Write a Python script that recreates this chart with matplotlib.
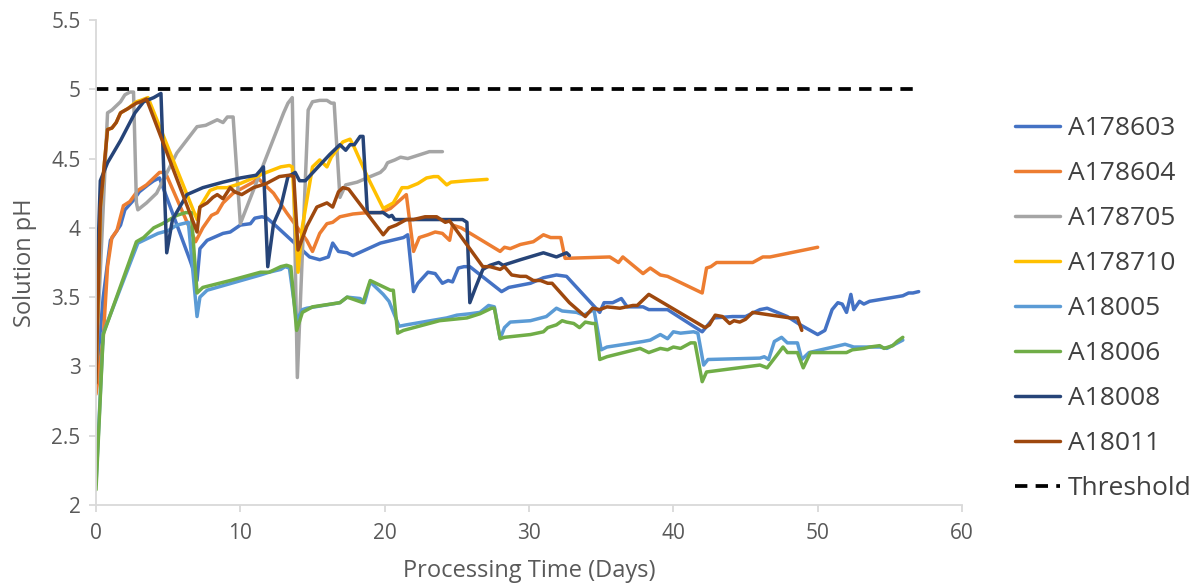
import matplotlib
matplotlib.use("Agg")
import matplotlib.pyplot as plt
from matplotlib.ticker import FuncFormatter, MultipleLocator

plt.rcParams['font.family'] = ['Open Sans', 'DejaVu Sans']

# ---------------- data ----------------
a178603_days = [0, 0.5, 1.0, 1.7, 2.0, 2.6, 3.0, 3.6, 4.0, 4.4, 6.5, 7.0, 7.2, 7.7, 8.8, 9.3, 10.0, 10.7, 11.0, 11.5,
                11.85, 12.3, 14.8, 15.5, 16.1, 16.4, 16.8, 17.4, 17.8, 19.7, 21.3, 21.6, 22.0, 22.3, 23.0, 23.5, 24.0, 24.4, 24.7, 25.1,
                25.5, 25.9, 28.1, 28.6, 30.1, 31.0, 31.9, 32.6, 34.9, 35.2, 35.8, 36.4, 36.8, 37.9, 38.3, 39.6, 42.0, 42.8, 44.1, 45.0,
                46.0, 46.5, 47.9, 48.8, 50.0, 50.5, 51.0, 51.4, 51.7, 52.0, 52.3, 52.5, 52.9, 53.2, 53.6, 55.9, 56.3, 56.6, 57.0]
a178603_ph = [2.9, 3.5, 3.91, 4.02, 4.13, 4.2, 4.26, 4.31, 4.34, 4.36, 3.77, 3.62, 3.85, 3.91, 3.96, 3.97, 4.02, 4.03, 4.07, 4.08,
              4.07, 4.03, 3.79, 3.77, 3.79, 3.89, 3.83, 3.82, 3.80, 3.89, 3.93, 3.95, 3.54, 3.60, 3.68, 3.67, 3.60, 3.62, 3.61, 3.71,
              3.72, 3.72, 3.54, 3.57, 3.60, 3.64, 3.66, 3.65, 3.39, 3.46, 3.46, 3.49, 3.43, 3.43, 3.41, 3.41, 3.25, 3.35, 3.36, 3.36,
              3.41, 3.42, 3.36, 3.30, 3.23, 3.26, 3.41, 3.46, 3.45, 3.39, 3.52, 3.41, 3.47, 3.45, 3.47, 3.51, 3.53, 3.53, 3.54]

a178604_days = [0, 0.5, 0.8, 1.1, 1.45, 1.9, 2.35, 2.9, 3.5, 4.4, 4.8, 6.9, 7.4, 8.0, 8.4, 8.8, 9.5, 10.2, 10.9, 11.2,
                12.3, 13.2, 14.6, 15.0, 15.5, 16.0, 16.4, 16.9, 17.8, 18.8, 19.7, 20.4, 21.5, 22.0, 22.4, 23.0, 23.5, 24.0, 24.5, 24.7,
                25.3, 28.0, 28.3, 28.7, 29.4, 30.3, 31.0, 31.5, 32.2, 32.5, 35.6, 36.2, 36.5, 37.9, 38.4, 39.1, 39.6, 42.0, 42.3, 42.6,
                43.0, 45.5, 46.2, 46.7, 50.0]
a178604_ph = [2.8, 3.2, 3.72, 3.93, 3.98, 4.16, 4.19, 4.27, 4.31, 4.40, 4.40, 3.90, 4.00, 4.09, 4.11, 4.18, 4.25, 4.29, 4.33, 4.36,
              4.25, 4.11, 3.91, 3.83, 3.96, 4.03, 4.04, 4.08, 4.10, 4.11, 4.11, 4.14, 4.24, 3.83, 3.93, 3.95, 3.97, 3.96, 3.91, 4.02,
              4.00, 3.83, 3.86, 3.85, 3.88, 3.90, 3.95, 3.93, 3.93, 3.78, 3.79, 3.75, 3.79, 3.67, 3.71, 3.66, 3.65, 3.53, 3.71, 3.72,
              3.75, 3.75, 3.79, 3.79, 3.86]

a178705_days = [0, 0.8, 1.1, 1.7, 2.0, 2.35, 2.6, 2.8, 2.9, 3.5, 4.2, 5.6, 7.0, 7.6, 8.4, 8.8, 9.1, 9.5, 10.0, 13.0,
                13.3, 13.6, 13.95, 14.7, 15.0, 15.5, 16.0, 16.3, 16.5, 16.9, 17.3, 18.1, 19.0, 19.7, 20.0, 20.2, 20.7, 21.1, 21.6, 22.2,
                22.8, 23.1, 23.5, 24.0]
a178705_ph = [3.0, 4.83, 4.85, 4.91, 4.96, 4.98, 4.98, 4.18, 4.13, 4.18, 4.25, 4.54, 4.73, 4.74, 4.78, 4.76, 4.80, 4.80, 4.03, 4.83,
              4.90, 4.94, 2.92, 4.85, 4.91, 4.92, 4.92, 4.90, 4.90, 4.22, 4.31, 4.33, 4.37, 4.40, 4.43, 4.47, 4.49, 4.51, 4.50, 4.52,
              4.54, 4.55, 4.55, 4.55]

a178710_days = [0, 0.3, 0.8, 1.1, 1.4, 1.7, 2.2, 2.8, 3.1, 3.6, 7.0, 7.2, 7.9, 8.4, 9.1, 10.0, 10.9, 11.8, 12.8, 13.4,
                13.6, 14.0, 14.3, 15.0, 15.5, 16.0, 16.3, 17.1, 17.6, 17.9, 18.8, 19.9, 20.6, 21.2, 21.6, 22.3, 22.9, 23.4, 23.7, 24.3,
                24.6, 25.7, 27.1]
a178710_ph = [2.9, 4.15, 4.71, 4.72, 4.76, 4.83, 4.86, 4.91, 4.92, 4.94, 4.06, 4.15, 4.27, 4.29, 4.29, 4.32, 4.36, 4.40, 4.44, 4.45,
              4.44, 3.68, 4.01, 4.44, 4.49, 4.44, 4.51, 4.62, 4.64, 4.58, 4.37, 4.14, 4.18, 4.29, 4.29, 4.32, 4.36, 4.37, 4.37, 4.31,
              4.33, 4.34, 4.35]

a18005_days = [0, 0.5, 2.9, 3.7, 4.3, 5.0, 5.6, 6.4, 7.0, 7.2, 7.7, 11.4, 12.0, 12.8, 13.1, 13.4, 13.9, 14.3, 14.6, 16.9,
               17.4, 18.3, 18.6, 19.0, 19.9, 20.3, 21.0, 21.5, 24.3, 25.0, 25.9, 26.6, 27.2, 27.6, 28.0, 28.3, 28.7, 30.1, 31.2, 31.9,
               32.3, 33.3, 33.8, 34.5, 35.0, 35.4, 37.9, 38.4, 39.1, 39.6, 40.0, 40.5, 41.4, 41.7, 42.1, 42.4, 46.0, 46.3, 46.6, 47.0,
               47.5, 47.9, 48.6, 48.9, 49.4, 51.9, 52.5, 54.3, 54.8, 55.9]
a18005_ph = [2.15, 3.24, 3.89, 3.93, 3.96, 3.98, 4.02, 4.04, 3.36, 3.50, 3.55, 3.66, 3.68, 3.70, 3.72, 3.71, 3.33, 3.41, 3.42, 3.46,
             3.50, 3.49, 3.46, 3.61, 3.52, 3.47, 3.29, 3.30, 3.35, 3.37, 3.38, 3.39, 3.44, 3.43, 3.20, 3.28, 3.32, 3.33, 3.36, 3.42,
             3.40, 3.39, 3.37, 3.41, 3.12, 3.14, 3.18, 3.19, 3.23, 3.20, 3.25, 3.24, 3.25, 3.24, 3.01, 3.05, 3.06, 3.07, 3.05, 3.18,
             3.21, 3.17, 3.17, 3.05, 3.10, 3.16, 3.14, 3.14, 3.13, 3.19]

a18006_days = [0, 0.5, 2.8, 3.3, 4.0, 4.6, 5.1, 5.6, 6.2, 6.6, 7.0, 7.4, 9.3, 11.4, 12.0, 12.8, 13.2, 13.5, 13.9, 14.3,
               15.0, 16.9, 17.4, 18.5, 19.0, 20.4, 20.6, 20.9, 21.3, 23.8, 25.7, 26.6, 27.4, 27.6, 28.0, 28.3, 30.1, 31.0, 31.3, 31.9,
               32.3, 32.6, 33.1, 33.5, 33.9, 34.4, 34.6, 34.9, 35.4, 37.7, 38.3, 39.1, 39.6, 40.0, 40.5, 41.2, 41.5, 42.0, 42.3, 46.0,
               46.5, 47.6, 47.9, 48.6, 49.0, 49.5, 52.0, 52.4, 53.2, 53.6, 54.3, 54.6, 55.2, 55.5, 55.9]
a18006_ph = [2.11, 3.23, 3.90, 3.93, 4.00, 4.03, 4.06, 4.09, 4.11, 4.11, 3.53, 3.57, 3.62, 3.68, 3.68, 3.72, 3.73, 3.72, 3.26, 3.39,
             3.43, 3.46, 3.50, 3.46, 3.62, 3.55, 3.55, 3.24, 3.26, 3.33, 3.35, 3.38, 3.42, 3.42, 3.20, 3.21, 3.23, 3.25, 3.28, 3.30,
             3.33, 3.32, 3.31, 3.28, 3.32, 3.31, 3.31, 3.05, 3.07, 3.13, 3.10, 3.13, 3.12, 3.14, 3.13, 3.17, 3.17, 2.89, 2.96, 3.01,
             2.99, 3.14, 3.10, 3.10, 2.99, 3.10, 3.10, 3.12, 3.13, 3.14, 3.15, 3.13, 3.15, 3.18, 3.21]

a18008_days = [0, 0.3, 0.8, 1.7, 2.7, 3.3, 4.0, 4.5, 4.9, 5.3, 6.3, 7.4, 8.8, 10.0, 11.1, 11.6, 11.9, 12.3, 12.8, 13.3,
               13.8, 14.1, 14.5, 15.3, 16.2, 16.9, 17.3, 17.6, 17.9, 18.3, 18.5, 18.8, 19.9, 20.3, 20.5, 20.7, 21.3, 25.4, 25.7, 25.9,
               26.3, 26.8, 27.3, 27.9, 28.2, 29.4, 31.0, 31.9, 32.6, 32.8]
a18008_ph = [3.4, 4.34, 4.47, 4.63, 4.83, 4.91, 4.94, 4.97, 3.82, 4.06, 4.24, 4.29, 4.33, 4.36, 4.38, 4.44, 3.72, 4.03, 4.15, 4.37,
             4.40, 4.34, 4.34, 4.43, 4.53, 4.60, 4.56, 4.60, 4.60, 4.66, 4.66, 4.11, 4.11, 4.08, 4.09, 4.06, 4.06, 4.06, 4.04, 3.46,
             3.57, 3.70, 3.73, 3.75, 3.73, 3.77, 3.82, 3.79, 3.82, 3.80]

a18011_days = [0, 0.3, 0.8, 1.1, 1.4, 1.7, 2.2, 2.8, 3.1, 3.5, 7.0, 7.2, 7.7, 8.1, 8.4, 8.8, 9.3, 9.6, 10.1, 10.9,
               11.8, 12.7, 13.4, 13.7, 14.0, 14.6, 15.3, 16.0, 16.4, 16.8, 17.1, 17.5, 19.9, 20.3, 20.8, 21.5, 22.0, 22.8, 23.6, 24.2,
               24.5, 26.8, 27.3, 28.0, 28.3, 28.8, 29.4, 29.8, 30.3, 30.8, 31.3, 31.6, 32.8, 33.9, 34.4, 34.9, 35.4, 36.3, 37.2, 37.5,
               38.3, 42.2, 42.5, 42.9, 43.4, 43.9, 44.2, 44.6, 45.0, 45.5, 48.1, 48.6, 48.9]
a18011_ph = [2.88, 4.15, 4.71, 4.72, 4.76, 4.83, 4.86, 4.90, 4.91, 4.93, 3.97, 4.15, 4.18, 4.22, 4.24, 4.21, 4.29, 4.26, 4.24, 4.29,
             4.32, 4.37, 4.38, 4.37, 3.84, 4.01, 4.15, 4.18, 4.15, 4.26, 4.29, 4.28, 3.95, 4.00, 4.02, 4.06, 4.06, 4.08, 4.08, 4.04,
             4.05, 3.72, 3.72, 3.70, 3.72, 3.66, 3.65, 3.65, 3.62, 3.62, 3.60, 3.60, 3.46, 3.36, 3.42, 3.41, 3.43, 3.42, 3.44, 3.44,
             3.52, 3.28, 3.30, 3.37, 3.36, 3.31, 3.33, 3.32, 3.34, 3.39, 3.35, 3.35, 3.26]

threshold_days = [0, 57]
threshold_ph = [5, 5]

series_names = ["A178603", "A178604", "A178705", "A178710", "A18005", "A18006", "A18008", "A18011"]
series_days = [a178603_days, a178604_days, a178705_days, a178710_days, a18005_days, a18006_days, a18008_days, a18011_days]
series_ph = [a178603_ph, a178604_ph, a178705_ph, a178710_ph, a18005_ph, a18006_ph, a18008_ph, a18011_ph]
colors = ["#4472C4", "#ED7D31", "#A5A5A5", "#FFC000", "#5B9BD5", "#70AD47", "#264478", "#9E480E"]

# ---------------- plot ----------------
fig = plt.figure(figsize=(11.92, 5.86), dpi=100)
ax = fig.add_axes([96 / 1192, 81 / 586, 866 / 1192, 485 / 586])

for name, d, p, c in zip(series_names, series_days, series_ph, colors):
    ax.plot(d, p, color=c, lw=2.5, label=name, solid_joinstyle='round', solid_capstyle='round')
ax.plot(threshold_days, threshold_ph, color='black', lw=2.7, dashes=(3.3, 2.2), label='Threshold')

ax.set_xlim(0, 60)
ax.set_ylim(2, 5.5)
ax.xaxis.set_major_locator(MultipleLocator(10))
ax.yaxis.set_major_locator(MultipleLocator(0.5))
ax.yaxis.set_major_formatter(FuncFormatter(lambda v, pos: f"{v:g}"))

for s in ['top', 'right']:
    ax.spines[s].set_visible(False)
for s in ['left', 'bottom']:
    ax.spines[s].set_color('#D9D9D9')
    ax.spines[s].set_linewidth(1.3)
ax.tick_params(axis='both', colors='#D9D9D9', labelcolor='#595959', labelsize=15, length=5, width=1.3)
ax.tick_params(axis='x', pad=8)
ax.tick_params(axis='y', pad=6)

ax.set_xlabel("Processing Time (Days)", fontsize=17, color='#595959', labelpad=11)
ax.set_ylabel("Solution pH", fontsize=17, color='#595959', labelpad=10)

leg = fig.legend(loc='upper left', bbox_to_anchor=(1015 / 1192, 1 - 116 / 586), frameon=False,
                 borderpad=0, borderaxespad=0,
                 fontsize=19, labelcolor='#404040', handlelength=1.7, handletextpad=0.3, labelspacing=0.76)

fig.savefig("out.png", dpi=100)
